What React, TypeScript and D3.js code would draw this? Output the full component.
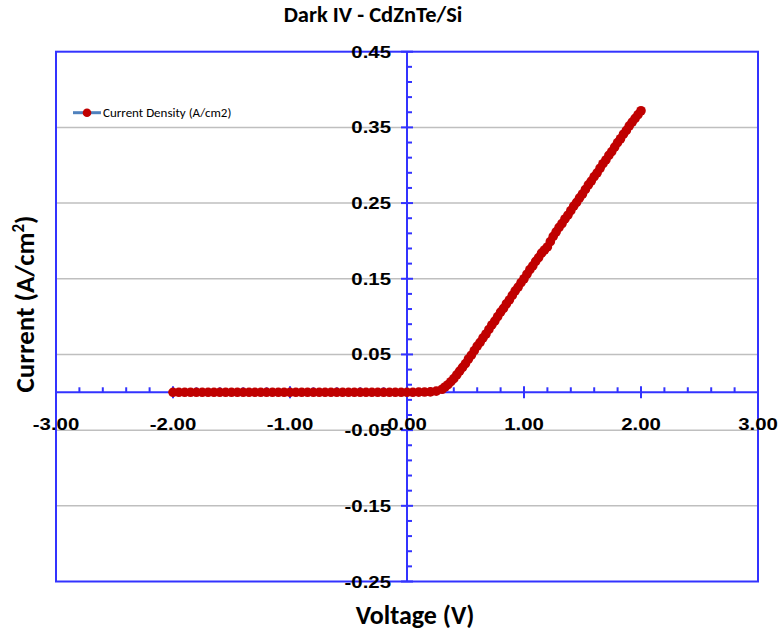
import React, { useEffect, useRef } from 'react';
import * as d3 from 'd3';

// voltage (V)
const voltage = [
  -2.0, -1.95, -1.9, -1.85, -1.8, -1.75, -1.7, -1.65, -1.6, -1.55,
  -1.5, -1.45, -1.4, -1.35, -1.3, -1.25, -1.2, -1.15, -1.1, -1.05,
  -1.0, -0.95, -0.9, -0.85, -0.8, -0.75, -0.7, -0.65, -0.6, -0.55,
  -0.5, -0.45, -0.4, -0.35, -0.3, -0.25, -0.2, -0.15, -0.1, -0.05,
  0.0, 0.05, 0.1, 0.15, 0.2, 0.25, 0.3,
  0.325, 0.35, 0.375, 0.4, 0.425, 0.45, 0.475, 0.5, 0.525, 0.55,
  0.575, 0.6, 0.625, 0.65, 0.675, 0.7, 0.725, 0.75, 0.775, 0.8,
  0.825, 0.85, 0.875, 0.9, 0.925, 0.95, 0.975, 1.0, 1.025, 1.05,
  1.075, 1.1, 1.125, 1.15, 1.175, 1.2, 1.225, 1.25, 1.275, 1.3,
  1.325, 1.35, 1.375, 1.4, 1.425, 1.45, 1.475, 1.5, 1.525, 1.55,
  1.575, 1.6, 1.625, 1.65, 1.675, 1.7, 1.725, 1.75, 1.775, 1.8,
  1.825, 1.85, 1.875, 1.9, 1.925, 1.95, 1.975, 2.0,
];

// current density (A/cm2)
const current = [
  0, 0, 0, 0, 0, 0, 0, 0, 0, 0,
  0, 0, 0, 0, 0, 0, 0, 0, 0, 0,
  0, 0, 0, 0, 0, 0, 0, 0, 0, 0,
  0, 0, 0, 0, 0, 0, 0, 0, 0, 0,
  0, 0, 0.0002, 0.0003, 0.0006, 0.0015, 0.004,
  0.007, 0.01, 0.014, 0.018, 0.023, 0.028, 0.033, 0.038, 0.044, 0.049,
  0.055, 0.061, 0.066, 0.072, 0.077, 0.083, 0.089, 0.094, 0.1, 0.106,
  0.111, 0.117, 0.122, 0.128, 0.134, 0.139, 0.145, 0.15, 0.156, 0.162,
  0.167, 0.173, 0.178, 0.184, 0.188, 0.192, 0.199, 0.206, 0.212, 0.218,
  0.223, 0.229, 0.234, 0.24, 0.246, 0.251, 0.257, 0.262, 0.268, 0.274,
  0.279, 0.285, 0.29, 0.296, 0.302, 0.307, 0.313, 0.318, 0.324, 0.33,
  0.335, 0.341, 0.346, 0.352, 0.357, 0.362, 0.367, 0.372,
];

const xTicks = [-3, -2, -1, 0, 1, 2, 3];
const yTicks = [-0.25, -0.15, -0.05, 0.05, 0.15, 0.25, 0.35, 0.45];

const title = 'Dark IV - CdZnTe/Si';
const seriesName = 'Current Density (A/cm2)';

export default function App() {
  const ref = useRef<SVGSVGElement | null>(null);

  useEffect(() => {
    const svg = d3.select(ref.current);
    svg.selectAll('*').remove();

    const width = 781;
    const height = 634;
    const blue = '#3333ff';
    const red = '#c00000';
    const calibri = 'Carlito, Lato, "Open Sans", sans-serif';
    const arial = '"Liberation Sans", Arial, sans-serif';
    const fmt = (d: number) => d3.format('.2f')(d).replace('\u2212', '-');

    svg.attr('width', width).attr('height', height);

    const x = d3.scaleLinear().domain([-3, 3]).range([56, 758]);
    const y = d3.scaleLinear().domain([-0.25, 0.45]).range([581.5, 51.7]);

    // gridlines
    svg.append('g')
      .selectAll('line')
      .data(yTicks.slice(1, -1))
      .join('line')
      .attr('x1', x(-3)).attr('x2', x(3))
      .attr('y1', d => y(d)).attr('y2', d => y(d))
      .attr('stroke', '#bfbfbf')
      .attr('stroke-width', 1.5);

    // plot border
    svg.append('rect')
      .attr('x', x(-3)).attr('y', y(0.45))
      .attr('width', x(3) - x(-3)).attr('height', y(-0.25) - y(0.45))
      .attr('fill', 'none')
      .attr('stroke', blue)
      .attr('stroke-width', 2);

    // axes crossing at zero
    const xMinor = d3.range(-3, 3.001, 0.2).filter(v => Math.abs(v - Math.round(v)) > 0.01);
    const yMinor = d3.range(-0.25, 0.451, 0.02).filter(v => !yTicks.some(t => Math.abs(t - v) < 0.001));

    const ax = svg.append('g').attr('stroke', blue).attr('stroke-width', 2);
    ax.append('line').attr('x1', x(-3)).attr('x2', x(3)).attr('y1', y(0)).attr('y2', y(0));
    ax.append('line').attr('x1', x(0)).attr('x2', x(0)).attr('y1', y(0.45)).attr('y2', y(-0.25));
    ax.selectAll('.xmaj').data(xTicks).join('line').attr('class', 'xmaj')
      .attr('x1', d => x(d)).attr('x2', d => x(d)).attr('y1', y(0) - 6).attr('y2', y(0) + 6);
    ax.selectAll('.xmin').data(xMinor).join('line').attr('class', 'xmin')
      .attr('x1', d => x(d)).attr('x2', d => x(d)).attr('y1', y(0) - 5).attr('y2', y(0));
    ax.selectAll('.ymaj').data(yTicks).join('line').attr('class', 'ymaj')
      .attr('x1', x(0) - 6).attr('x2', x(0) + 6).attr('y1', d => y(d)).attr('y2', d => y(d));
    ax.selectAll('.ymin').data(yMinor).join('line').attr('class', 'ymin')
      .attr('x1', x(0)).attr('x2', x(0) + 5).attr('y1', d => y(d)).attr('y2', d => y(d));

    // series
    const pts = voltage.map((v, i) => [v, current[i]] as [number, number]);
    svg.append('path')
      .datum(pts)
      .attr('fill', 'none')
      .attr('stroke', '#4f81bd')
      .attr('stroke-width', 2)
      .attr('d', d3.line<[number, number]>().x(d => x(d[0])).y(d => y(d[1])));
    svg.append('g')
      .selectAll('circle')
      .data(pts)
      .join('circle')
      .attr('cx', d => x(d[0]))
      .attr('cy', d => y(d[1]))
      .attr('r', 4.8)
      .attr('fill', red);

    // tick labels
    svg.append('g')
      .selectAll('text')
      .data(xTicks)
      .join('text')
      .attr('transform', d => `translate(${x(d)},430) scale(1.2,1)`)
      .attr('text-anchor', 'middle')
      .attr('font-family', arial)
      .attr('font-weight', 'bold')
      .attr('font-size', 17)
      .text(fmt);

    svg.append('g')
      .selectAll('text')
      .data(yTicks)
      .join('text')
      .attr('transform', d => `translate(391,${y(d) + 6}) scale(1.2,1)`)
      .attr('text-anchor', 'end')
      .attr('font-family', arial)
      .attr('font-weight', 'bold')
      .attr('font-size', 17)
      .text(fmt);

    // title and axis titles
    svg.append('text')
      .attr('x', 373).attr('y', 22)
      .attr('text-anchor', 'middle')
      .attr('font-family', calibri)
      .attr('font-weight', 'bold')
      .attr('font-size', 22.5)
      .text(title);

    svg.append('text')
      .attr('x', 415).attr('y', 624)
      .attr('text-anchor', 'middle')
      .attr('font-family', calibri)
      .attr('font-weight', 'bold')
      .attr('font-size', 26)
      .text('Voltage (V)');

    const yl = svg.append('text')
      .attr('transform', 'translate(34,304) rotate(-90)')
      .attr('text-anchor', 'middle')
      .attr('font-family', calibri)
      .attr('font-weight', 'bold')
      .attr('font-size', 27)
      .text('Current (A/cm');
    yl.append('tspan').attr('baseline-shift', 'super').attr('font-size', 17).text('2');
    yl.append('tspan').text(')');

    // legend
    const lg = svg.append('g');
    lg.append('line')
      .attr('x1', 73).attr('x2', 101).attr('y1', 112.7).attr('y2', 112.7)
      .attr('stroke', '#4f81bd').attr('stroke-width', 3);
    lg.append('circle').attr('cx', 87).attr('cy', 112.7).attr('r', 4.3).attr('fill', red);
    lg.append('text')
      .attr('x', 103).attr('y', 117)
      .attr('font-family', calibri)
      .attr('font-size', 13)
      .text(seriesName);
  }, []);

  return (
    <svg ref={ref} style={{ position: 'absolute', left: 0, top: 0, background: '#fff' }} />
  );
}
